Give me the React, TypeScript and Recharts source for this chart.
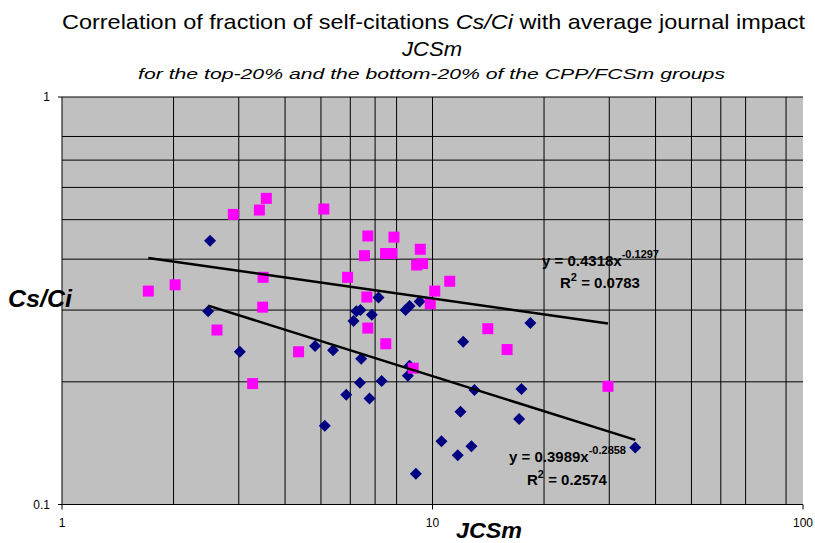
import React from 'react';
import { ScatterChart, Scatter, XAxis, YAxis, CartesianGrid } from 'recharts';

// Top-20% CPP/FCSm groups (pink squares): JCSm, Cs/Ci
const topX = [1.71, 2.02, 2.62, 2.90, 3.27, 3.41, 3.56, 3.49, 3.48, 4.35, 5.09, 5.90, 6.55, 6.69, 6.65, 6.69, 7.48, 7.47, 7.77, 7.87, 8.87, 9.06, 9.40, 9.27, 9.86, 10.14, 11.13, 14.10, 15.90, 29.76];
const topY = [0.334, 0.346, 0.268, 0.515, 0.198, 0.528, 0.564, 0.361, 0.305, 0.237, 0.531, 0.361, 0.408, 0.456, 0.323, 0.271, 0.248, 0.413, 0.413, 0.453, 0.216, 0.387, 0.390, 0.423, 0.311, 0.334, 0.353, 0.270, 0.240, 0.195];

// Bottom-20% CPP/FCSm groups (navy diamonds)
const botX = [2.51, 2.48, 3.02, 4.82, 5.39, 5.12, 5.85, 6.12, 6.23, 6.39, 6.42, 6.37, 6.86, 6.76, 7.15, 7.29, 8.46, 8.67, 8.67, 8.58, 9.02, 9.23, 10.57, 11.70, 11.90, 12.10, 12.74, 12.98, 17.13, 17.38, 18.37, 35.26];
const botY = [0.444, 0.298, 0.237, 0.245, 0.239, 0.156, 0.186, 0.282, 0.298, 0.300, 0.228, 0.199, 0.292, 0.182, 0.322, 0.201, 0.300, 0.307, 0.219, 0.207, 0.119, 0.315, 0.143, 0.132, 0.169, 0.251, 0.139, 0.191, 0.162, 0.192, 0.279, 0.138];

// Power trendlines y = a * x^b
const topTrend = { a: 0.4318, b: -0.1297, r2: '0.0783' };
const botTrend = { a: 0.3989, b: -0.2858, r2: '0.2574' };

const xTicks = [1, 10, 100];
const yTicks = [0.1, 1];
const xGrid = [2, 3, 4, 5, 6, 7, 8, 9, 10, 20, 30, 40, 50, 60, 70, 80, 90];
const yGrid = [0.2, 0.3, 0.4, 0.5, 0.6, 0.7, 0.8, 0.9, 1];

const topData = topX.map((x, i) => ({ x, y: topY[i] }));
const botData = botX.map((x, i) => ({ x, y: botY[i] }));

const trendData = (t: { a: number; b: number }, xs: number[]) => {
  const lo = Math.min(...xs);
  const hi = Math.max(...xs);
  return [lo, hi].map((x) => ({ x, y: t.a * Math.pow(x, t.b) }));
};
const topLine = trendData(topTrend, topX);
const botLine = trendData(botTrend, botX);

const Square = (p: any) => (
  <rect x={p.cx - 5.5} y={p.cy - 5.5} width={11} height={11} fill="#FF00FF" />
);
const Diamond = (p: any) => (
  <polygon
    points={`${p.cx},${p.cy - 6} ${p.cx + 6},${p.cy} ${p.cx},${p.cy + 6} ${p.cx - 6},${p.cy}`}
    fill="#000080"
  />
);
const NoShape = () => <g />;

const FONT = '"Liberation Sans", Arial, sans-serif';

export default function App() {
  return (
    <div style={{ position: 'absolute', left: 0, top: 0, width: 815, height: 543, background: '#fff', fontFamily: FONT }}>
      <div style={{ position: 'absolute', left: 0, top: 0 }}>
        <ScatterChart width={815} height={543} margin={{ top: 97, right: 12, bottom: 8.5, left: 12 }}>
          <CartesianGrid
            fill="#C0C0C0"
            fillOpacity={1}
            stroke="#000"
            strokeWidth={1}
            horizontalValues={yGrid}
            verticalValues={xGrid}
          />
          <XAxis
            type="number"
            dataKey="x"
            scale="log"
            domain={[1, 100]}
            ticks={xTicks}
            allowDataOverflow
            height={30}
            tickSize={5}
            tickMargin={9}
            stroke="#000"
            tick={{ fill: '#000', fontSize: 12, fontFamily: FONT }}
            tickFormatter={(v: number) => String(v)}
          />
          <YAxis
            type="number"
            dataKey="y"
            scale="log"
            domain={[0.1, 1]}
            ticks={yTicks}
            allowDataOverflow
            width={50}
            tickSize={4}
            tickMargin={8}
            stroke="#000"
            tick={{ fill: '#000', fontSize: 12, fontFamily: FONT }}
            tickFormatter={(v: number) => String(v)}
          />
          <Scatter data={botData} shape={Diamond} isAnimationActive={false} />
          <Scatter data={topData} shape={Square} isAnimationActive={false} />
          <Scatter data={topLine} shape={NoShape} line={{ stroke: '#000', strokeWidth: 2.5 }} isAnimationActive={false} />
          <Scatter data={botLine} shape={NoShape} line={{ stroke: '#000', strokeWidth: 2.5 }} isAnimationActive={false} />
        </ScatterChart>
      </div>
      <svg width={815} height={543} style={{ position: 'absolute', left: 0, top: 0, pointerEvents: 'none' }} fontFamily={FONT}>
        <text x={62} y={29} fontSize={21} fill="#000" textLength={743} lengthAdjust="spacingAndGlyphs">
          Correlation of fraction of self-citations <tspan fontStyle="italic">Cs/Ci</tspan> with average journal impact
        </text>
        <text x={432} y={56} fontSize={21} fill="#000" fontStyle="italic" textAnchor="middle" textLength={60} lengthAdjust="spacingAndGlyphs">JCSm</text>
        <text x={138} y={79} fontSize={15.5} fill="#000" fontStyle="italic" textLength={587} lengthAdjust="spacingAndGlyphs">
          for the top-20% and the bottom-20% of the CPP/FCSm groups
        </text>
        <text x={8} y={307} fontSize={23} fontWeight="bold" fontStyle="italic" fill="#000" textLength={64} lengthAdjust="spacingAndGlyphs">Cs/Ci</text>
        <text x={456} y={538} fontSize={22} fontWeight="bold" fontStyle="italic" fill="#000" textLength={66} lengthAdjust="spacingAndGlyphs">JCSm</text>

        <text x={542} y={266} fontSize={15} fontWeight="bold" fill="#000">
          y = {topTrend.a}x<tspan fontSize={11} dy={-8}>{topTrend.b}</tspan>
        </text>
        <text x={560} y={288} fontSize={15} fontWeight="bold" fill="#000">
          R<tspan fontSize={11} dy={-7}>2</tspan><tspan dy={7}> = {topTrend.r2}</tspan>
        </text>
        <text x={509} y={462} fontSize={15} fontWeight="bold" fill="#000">
          y = {botTrend.a}x<tspan fontSize={11} dy={-8}>{botTrend.b}</tspan>
        </text>
        <text x={527} y={485} fontSize={15} fontWeight="bold" fill="#000">
          R<tspan fontSize={11} dy={-7}>2</tspan><tspan dy={7}> = {botTrend.r2}</tspan>
        </text>
      </svg>
    </div>
  );
}
